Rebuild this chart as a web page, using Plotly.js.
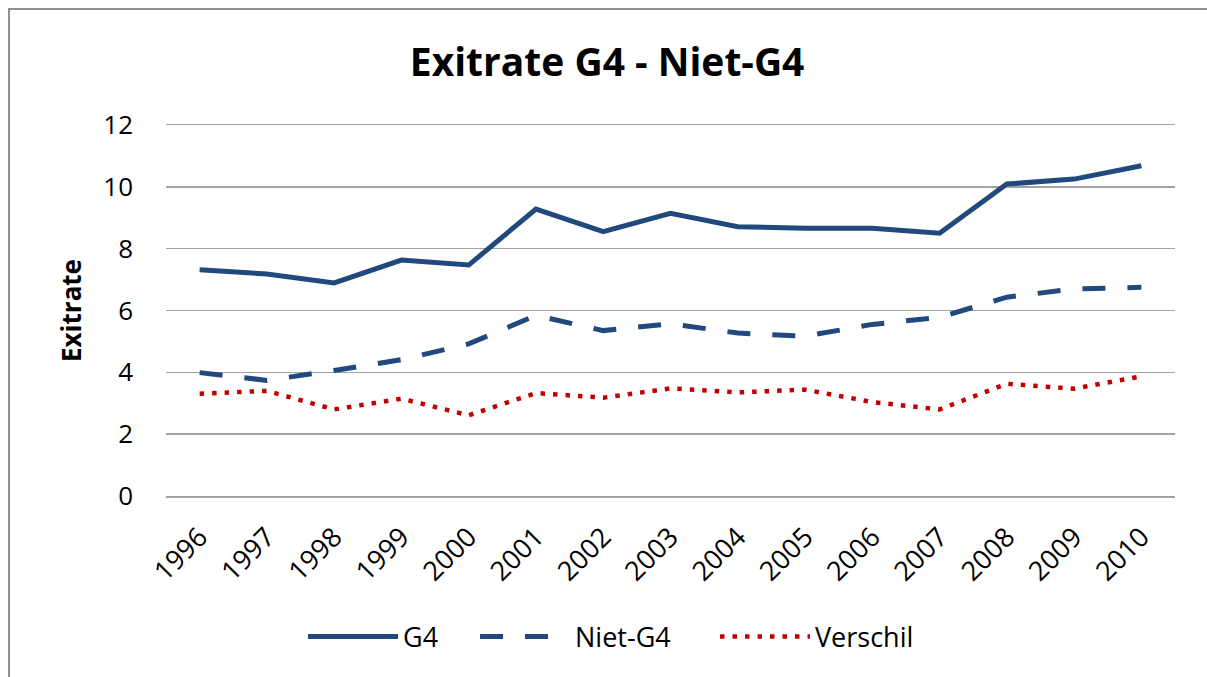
<!DOCTYPE html>
<html>
<head>
<meta charset="utf-8">
<script src="https://cdn.plot.ly/plotly-3.0.1.min.js"></script>
<style>
  html, body { margin: 0; padding: 0; background: #fff; }
  #chart { width: 1207px; height: 677px; position: relative; }
  #frame { position: absolute; left: 8px; top: 8px; width: 1300px; height: 700px;
           border-left: 2.5px solid #8f8f8f; border-top: 2.5px solid #8f8f8f;
           pointer-events: none; }
</style>
</head>
<body>
<div id="chart"></div>
<div id="frame"></div>
<script>
const years = ['1996','1997','1998','1999','2000','2001','2002','2003','2004','2005','2006','2007','2008','2009','2010'];
const g4 = [7.32, 7.18, 6.89, 7.63, 7.47, 9.28, 8.55, 9.14, 8.71, 8.66, 8.66, 8.50, 10.09, 10.25, 10.68];
const nietG4 = [3.99, 3.74, 4.06, 4.41, 4.92, 5.84, 5.35, 5.57, 5.27, 5.17, 5.55, 5.78, 6.43, 6.70, 6.75];
const verschil = [3.31, 3.40, 2.80, 3.15, 2.61, 3.33, 3.18, 3.48, 3.35, 3.44, 3.04, 2.80, 3.63, 3.47, 3.87];
const yTicks = [0, 2, 4, 6, 8, 10, 12];

const FONT = 'Open Sans, Noto Sans, sans-serif';
const BLUE = '#22497E';
const RED = '#C00000';
const GRID = '#a3a3a3';

const traces = [
  { x: years, y: g4, name: 'G4', type: 'scatter', mode: 'lines', legendwidth: 67,
    line: { color: BLUE, width: 5 } },
  { x: years, y: nietG4, name: 'Niet-G4', type: 'scatter', mode: 'lines', legendwidth: 135,
    line: { color: BLUE, width: 5, dash: '23px,22px' } },
  { x: years, y: verschil, name: 'Verschil', type: 'scatter', mode: 'lines',
    line: { color: RED, width: 4.5, dash: '4.5px,8px' } }
];

const layout = {
  width: 1207, height: 677,
  margin: { l: 166, r: 32, t: 125, b: 181 },
  paper_bgcolor: '#ffffff', plot_bgcolor: '#ffffff',
  font: { family: FONT, color: '#000' },
  title: { text: '<b>Exitrate G4 - Niet-G4</b>', font: { family: FONT, size: 39, color: '#000' },
           x: 0.503, xanchor: 'center', y: 0.908, yanchor: 'middle' },
  xaxis: { type: 'category', range: [-0.5, 14.5], tickangle: -45,
           tickfont: { family: FONT, size: 27, color: '#000' },
           showgrid: false, zeroline: false, showline: true, mirror: true,
           linecolor: GRID, linewidth: 1.5, ticks: '', ticklabelstandoff: 13,
           fixedrange: true },
  yaxis: { range: [0, 12], tickvals: yTicks, tickfont: { family: FONT, size: 26, color: '#000' },
           showgrid: true, gridcolor: GRID, gridwidth: 1.5, zeroline: false, showline: false,
           ticks: '', ticklabelstandoff: 32,
           title: { text: '<b>Exitrate</b>', font: { family: FONT, size: 26, color: '#000' }, standoff: 14 } },
  showlegend: true,
  legend: { orientation: 'h', x: 0.1358, xanchor: 'left', y: -0.38, yanchor: 'middle',
            font: { family: FONT, size: 27, color: '#000' }, itemwidth: 90, bgcolor: 'rgba(0,0,0,0)' }
};

Plotly.newPlot('chart', traces, layout, { staticPlot: true, displayModeBar: false });
</script>
</body>
</html>
